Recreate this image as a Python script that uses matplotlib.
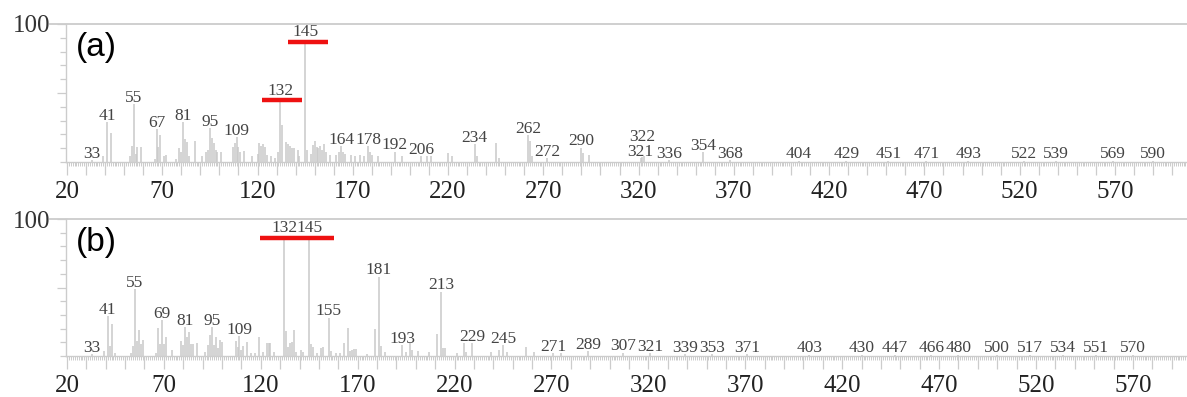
import matplotlib

matplotlib.use("Agg")
import matplotlib.pyplot as plt
from matplotlib.ticker import FixedLocator, FuncFormatter, MultipleLocator

# panel (a): m/z and relative intensity (%)
A_MZ = [33, 39, 41, 43, 53, 54, 55, 56, 57, 59, 66, 67, 68, 69, 71, 72, 77, 79, 80, 81,
        82, 83, 84, 87, 91, 93, 94, 95, 96, 97, 98, 99, 101, 107, 108, 109, 110, 111, 113,
        117, 120, 121, 122, 123, 124, 125, 127, 129, 131, 132, 133, 135, 136, 137, 138,
        139, 141, 142, 145, 146, 148, 149, 150, 151, 152, 153, 154, 155, 156, 158, 161,
        163, 164, 165, 166, 169, 171, 174, 176, 178, 179, 180, 183, 192, 196, 206, 209,
        211, 220, 222, 234, 235, 245, 247, 262, 263, 264, 272, 290, 291, 294, 321, 322,
        323, 336, 354, 368, 404, 429, 451, 471, 493, 522, 539, 569, 590]
A_INT = [1.5, 4, 28.7, 21, 4, 11.6, 42, 6, 10.6, 10.6, 2, 24, 11, 19.6, 4, 5, 2, 10, 7.5, 29,
         17, 14.7, 4, 15, 4, 7, 9, 24.6, 17.6, 13.5, 9, 7.5, 7, 11, 13.5, 18, 11, 7, 8,
         4, 6, 14, 11.6, 13, 10.6, 5, 4, 3, 7.5, 45, 27, 14.7, 13, 11.6, 10.4,
         10, 9, 4, 87, 9, 6, 12, 15.5, 11, 10, 11.6, 9, 13, 7.5, 5, 5,
         7.5, 11.6, 7.5, 6, 5, 4, 5, 4, 11.6, 7.5, 5, 4, 7.5, 4, 4, 4.6,
         4, 6.8, 4, 13, 4, 14, 3, 19.6, 15, 4, 3, 10.4, 6.8, 5, 3, 3.5,
         4, 1.5, 7, 1.5, 1, 1, 1, 1, 1, 1, 1, 1, 1]
A_LABELS = [33, 41, 55, 67, 81, 95, 109, 132, 145, 164, 178, 192, 206, 234, 262, 272, 290,
            321, 322, 336, 354, 368, 404, 429, 451, 471, 493, 522, 539, 569, 590]
A_BARS = [(136, 157, 87), (122.3, 143.3, 45)]

# panel (b)
B_MZ = [33, 39, 41, 42, 43, 45, 53, 54, 55, 56, 57, 58, 59, 66, 67, 68, 69, 70, 71, 74,
        79, 80, 81, 82, 83, 84, 85, 87, 91, 93, 94, 95, 96, 97, 98, 99, 100, 107, 108,
        109, 110, 111, 113, 115, 117, 119, 121, 123, 124, 125, 127, 132, 133, 134, 135,
        136, 137, 138, 141, 142, 145, 146, 147, 149, 151, 152, 155, 156, 159, 161, 163,
        165, 166, 167, 168, 169, 175, 179, 181, 182, 184, 193, 195, 197, 198, 201, 207,
        211, 213, 214, 215, 221, 225, 226, 229, 239, 243, 245, 247, 257, 261, 271, 275,
        289, 307, 321, 339, 353, 371, 403, 430, 447, 466, 480, 500, 517, 534, 551, 570]
B_INT = [1.5, 3.6, 29, 7, 23, 2, 2.4, 7, 49, 11, 19, 9, 11.7, 2, 20.7, 9, 26, 8.8, 13.6, 4.4,
         11, 8, 21, 14, 17.8, 9, 8.8, 9.7, 3, 8, 15, 21, 8, 13.6, 5.6, 12, 10, 11, 6.8,
         14.6, 4.4, 7.3, 10.5, 2.4, 2.4, 14, 3, 9.7, 9.2, 9.2, 3, 86, 18, 6.8, 9.2,
         10.5, 19, 3, 4.4, 3, 86, 8.8, 6.8, 2.4, 5.6, 6.3, 28, 4, 2.4, 2.4, 9.7,
         20.7, 4, 4.4, 5, 5, 1.5, 20, 58, 7.3, 3, 8, 3.2, 9.2, 4.4, 4, 3.2,
         15.8, 47, 6, 5.6, 2, 9.2, 3.2, 9.2, 3.2, 4.4, 8, 3.2, 6.3, 2.7, 2, 2,
         3.6, 2.5, 2, 1.5, 1.5, 1.5, 1, 1, 1, 1, 1, 1, 1, 1, 1, 1]
B_LABELS = [33, 41, 55, 69, 81, 95, 109, 132, 145, 155, 181, 193, 213, 229, 245, 271, 289,
            307, 321, 339, 353, 371, 403, 430, 447, 466, 480, 500, 517, 534, 551, 570]
B_BARS = [(119.6, 157.8, 86)]

# label heights moved up by hand where labels would collide with each other or a bar
A_LABEL_Y = {322: 13.5, 145: 89.5, 132: 47}
B_LABEL_Y = {132: 89, 145: 89}

SERIF = "Liberation Serif"
GRAY = "#cccccc"


def draw_panel(ax, mz, inten, labels, bars, label_y, xmax, tag):
    ax.vlines(mz, 0, inten, color="#c9c9c9", linewidth=1.1)
    lookup = dict(zip(mz, inten))
    for m in labels:
        y = label_y.get(m, lookup[m])
        ax.annotate(str(m), (m, y), xytext=(0, 1.6), textcoords="offset points",
                    ha="center", va="baseline", fontsize=12.5, family=SERIF,
                    color="#444444", annotation_clip=False)
    for x0, x1, y in bars:
        ax.plot([x0, x1], [y, y], color="#ee1111", linewidth=3.2, solid_capstyle="butt")

    ax.set_xlim(19.5, xmax)
    ax.set_ylim(0, 100)
    for side in ("top", "right"):
        ax.spines[side].set_visible(False)
    for side in ("left", "bottom"):
        ax.spines[side].set_color(GRAY)
        ax.spines[side].set_linewidth(1.0)
    # top 100% line, running into the tick label
    ax.plot([-0.0145, 1.0], [100, 100], transform=ax.get_yaxis_transform(),
            color=GRAY, linewidth=1.3, clip_on=False)

    ax.xaxis.set_major_locator(FixedLocator(range(20, 610, 10)))
    ax.xaxis.set_minor_locator(MultipleLocator(1))
    ax.xaxis.set_major_formatter(FuncFormatter(lambda v, p: f"{v:.0f}" if (v - 20) % 50 == 0 else ""))
    ax.tick_params(axis="x", which="major", length=9.5, width=0.9, color=GRAY, pad=4.5,
                   labelsize=18, labelcolor="#222222")
    ax.tick_params(axis="x", which="minor", length=3.2, width=0.7, color=GRAY)

    ax.yaxis.set_major_locator(FixedLocator([50, 100]))
    ax.yaxis.set_minor_locator(MultipleLocator(10))
    ax.yaxis.set_major_formatter(FuncFormatter(lambda v, p: "100" if v == 100 else ""))
    ax.tick_params(axis="y", which="major", length=6.5, width=0.9, color=GRAY, pad=5,
                   labelsize=18, labelcolor="#333333")
    ax.tick_params(axis="y", which="minor", length=4.3, width=0.9, color=GRAY)
    for t in ax.get_xticklabels() + ax.get_yticklabels():
        t.set_family(SERIF)

    ax.text(0.027, 0.83, tag, transform=ax.transAxes, fontsize=24, family="Liberation Sans",
            ha="center", va="center", color="black")


fig = plt.figure(figsize=(11.87, 3.97), dpi=100)
W, H = 1187, 397
ax_a = fig.add_axes([66 / W, 1 - 162 / H, 1121 / W, 138 / H])
ax_b = fig.add_axes([66 / W, 1 - 356 / H, 1121 / W, 137 / H])

draw_panel(ax_a, A_MZ, A_INT, A_LABELS, A_BARS, A_LABEL_Y, 607.8, "(a)")
draw_panel(ax_b, B_MZ, B_INT, B_LABELS, B_BARS, B_LABEL_Y, 597.9, "(b)")

fig.savefig("out.png", dpi=100)
